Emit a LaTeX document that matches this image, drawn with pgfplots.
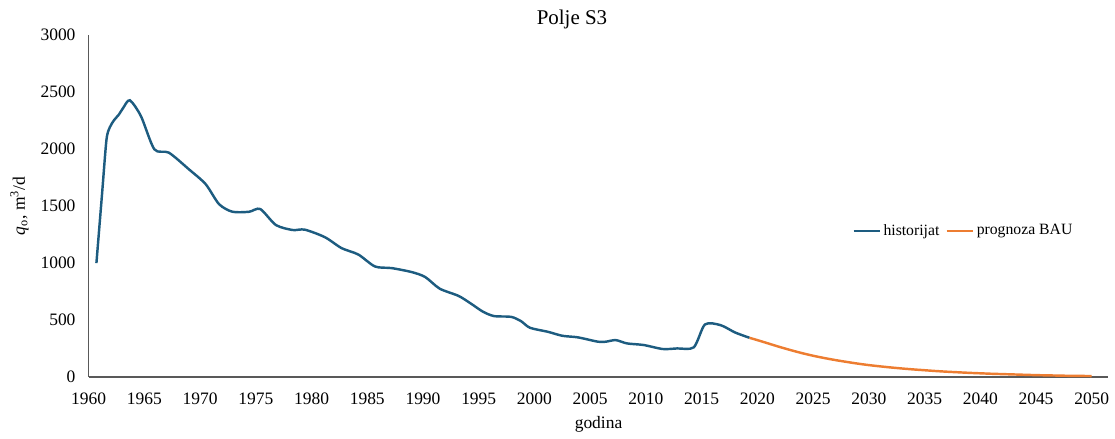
\documentclass[border=0pt]{standalone}
\usepackage{pgfplots}
\pgfplotsset{compat=1.18}
\usepackage{fontspec}
\setmainfont{Liberation Serif}
\definecolor{histblue}{HTML}{1D5C80}
\definecolor{progorange}{HTML}{ED7D31}
\definecolor{axgray}{HTML}{595959}
\begin{document}
\begin{tikzpicture}
\begin{axis}[
  scale only axis,
  width=584pt, height=196pt,
  xmin=1960, xmax=2051.5,
  ymin=0, ymax=3000,
  axis x line*=bottom, axis y line*=left,
  axis line style={axgray, line width=0.8pt},
  xtick={1960,1965,...,2050},
  ytick={0,500,...,3000},
  major tick length=0pt,
  /pgf/number format/assume math mode=true,
  /pgf/number format/1000 sep={},
  tick label style={font=\fontsize{10}{12}\selectfont, text=black},
  xticklabel style={yshift=-5.5pt},
  yticklabel style={xshift=-4pt},
  title={Polje S3},
  title style={font=\fontsize{12}{14}\selectfont, at={(0.474,1)}, yshift=-6pt},
  xlabel={godina},
  xlabel style={font=\fontsize{10}{12}\selectfont, yshift=0pt},
  ylabel={\textit{q}\textsubscript{o}, m\textsuperscript{3}/d},
  ylabel style={font=\fontsize{10}{12}\selectfont},
  legend columns=2,
  legend style={at={(0.858,0.427)}, anchor=center, draw=none, fill=none,
    font=\fontsize{9}{10}\selectfont,
    /tikz/every odd column/.append style={column sep=0pt},
    /tikz/every even column/.append style={column sep=2pt},
    nodes={inner xsep=1.5pt}},
  legend image code/.code={\draw[#1, line width=1.4pt] (0pt,0pt) -- (15pt,0pt);},
  legend cell align=left,
  clip=false,
]
\addplot[histblue, line width=1.4pt, smooth, tension=0.45] coordinates {
(1960.7,1000) (1961.2,1600) (1961.6,2080) (1961.9,2190) (1962.3,2255) (1962.7,2300) (1963.1,2360) (1963.7,2427) (1964.7,2287)
(1965.9,1997) (1967.2,1968) (1969.0,1822) (1970.5,1692) (1971.7,1517)
(1972.9,1450) (1974.4,1450) (1975.4,1474) (1976.8,1334) (1978.3,1290)
(1979.4,1293) (1981.2,1227) (1982.7,1131) (1984.2,1075) (1985.7,970)
(1987.2,956) (1989.0,921) (1990.2,878) (1991.5,776) (1993.2,712)
(1994.3,645) (1995.4,573) (1996.4,535) (1997.9,529) (1998.8,491)
(1999.6,433) (2001.2,398) (2002.5,363) (2003.9,349) (2005.7,311)
(2006.4,311) (2007.3,325) (2008.3,296) (2009.8,282) (2011.5,247)
(2012.8,252) (2014.3,262) (2015.3,462) (2016.7,456) (2018.0,392)
(2019.3,345)
};
\addlegendentry{historijat}
\addplot[progorange, line width=1.4pt, smooth, tension=0.5] coordinates {
(2019.3,345) (2020,325) (2021,295) (2022,265) (2023,237) (2024,211)
(2025,188) (2026,168) (2027,150) (2028,134) (2029,119) (2030,106)
(2031,95) (2032,85) (2033,76) (2034,68) (2035,61) (2036,54) (2037,48)
(2038,43) (2039,38) (2040,34) (2041,30) (2042,27) (2043,24) (2044,21)
(2045,18) (2046,16) (2047,14) (2048,12) (2049,11) (2050,10)
};
\addlegendentry{prognoza BAU}
\path (rel axis cs:-0.0869,-0.154) rectangle (rel axis cs:1.002,1.102);
\end{axis}
\end{tikzpicture}
\end{document}
